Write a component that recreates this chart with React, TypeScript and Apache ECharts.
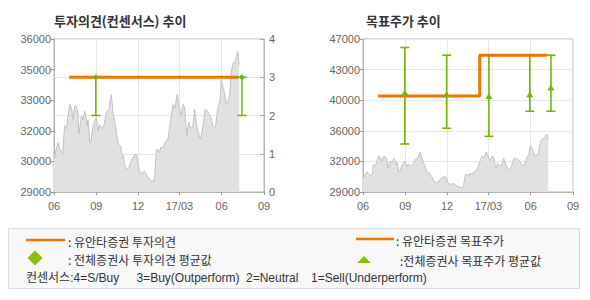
import React, { useEffect, useRef } from 'react';
import * as echarts from 'echarts';

// ---------- data ----------
const priceDates = [
  '2016-06-01','2016-06-05','2016-06-10','2016-06-13','2016-06-17','2016-06-20','2016-06-24','2016-06-28',
  '2016-07-01','2016-07-05','2016-07-09','2016-07-12','2016-07-16','2016-07-20','2016-07-23','2016-07-25',
  '2016-07-31','2016-08-03','2016-08-07','2016-08-10','2016-08-12','2016-08-14','2016-08-18','2016-08-21',
  '2016-08-24','2016-08-29','2016-09-01','2016-09-05','2016-09-08','2016-09-13','2016-09-17','2016-09-23',
  '2016-09-29','2016-09-30','2016-10-04','2016-10-07','2016-10-13','2016-10-18','2016-10-24','2016-10-26',
  '2016-10-29','2016-11-02','2016-11-07','2016-11-11','2016-11-15','2016-11-20','2016-11-24','2016-11-27',
  '2016-12-03','2016-12-06','2016-12-10','2016-12-15','2016-12-23','2016-12-30','2017-01-04','2017-01-06',
  '2017-01-10','2017-01-13','2017-01-17','2017-01-19','2017-01-24','2017-02-01','2017-02-04','2017-02-08',
  '2017-02-11','2017-02-15','2017-02-19','2017-02-24','2017-02-27','2017-03-04','2017-03-09','2017-03-12',
  '2017-03-17','2017-03-21','2017-03-26','2017-03-30','2017-04-03','2017-04-08','2017-04-12','2017-04-16',
  '2017-04-21','2017-04-26','2017-05-01','2017-05-07','2017-05-13','2017-05-18','2017-05-23','2017-05-28',
  '2017-05-31','2017-06-04','2017-06-07','2017-06-11','2017-06-15','2017-06-18','2017-06-22','2017-06-26',
  '2017-06-29','2017-07-03','2017-07-06','2017-07-09'
];
const priceValues = [
  30590,31000,31380,31110,30980,30800,32220,32070,
  32590,33230,33070,32510,33150,33120,32800,31800,
  32670,32490,32910,32590,32180,32490,31390,31540,
  32070,32510,32590,31950,32280,32070,32170,32840,
  33000,33310,33710,32910,32180,31390,31220,30900,
  30820,30270,30100,30160,30480,30660,30820,30820,
  30110,29860,29950,30000,29700,29530,29530,29770,
  31060,31060,30900,31150,31150,31540,31540,32180,
  32670,33230,33020,33710,33330,32670,33230,33120,
  31710,32380,32070,32170,33000,32170,31780,31540,
  32170,33000,32910,32700,32180,32070,33000,33400,
  34440,34070,33800,33230,33440,33630,34830,35250,
  35240,35560,35810,35160
];

const xTickDates = ['2016-06-01','2016-09-01','2016-12-01','2017-03-01','2017-06-01','2017-09-01'];
const xTickLabels = ['06','09','12','17/03','06','09'];

const leftPriceTicks = [29000, 30480, 31960, 33440, 34920, 36400];
const leftPriceTickLabels = ['29000','30000','32000','33000','35000','36000'];
const rightPriceTicks = [29000, 32600, 36200, 39800, 43400, 47000];
const rightPriceTickLabels = ['29000','32000','36000','40000','43000','47000'];

// investment opinion (4=S/Buy 3=Buy 2=Neutral 1=Sell)
const opinionDates = ['2016-07-04','2017-07-07'];
const opinionValues = [3, 3];
const consOpinionDates = ['2016-08-31','2017-07-15'];
const consOpinionMin = [2, 2];
const consOpinionMax = [3, 3];
const consOpinionAvg = [3, 3];

// target price
const targetDates = ['2016-07-04','2017-02-10','2017-07-07'];
const targetValues = [40300, 45100, 45100];
const consTargetDates = ['2016-08-31','2016-11-30','2017-03-02','2017-05-30','2017-07-15'];
const consTargetMin = [34650, 36500, 35550, 38500, 38500];
const consTargetMax = [46000, 45100, 45100, 45100, 45100];
const consTargetAvg = [40700, 40500, 40300, 40500, 41300];

// ---------- styles ----------
const ORANGE = '#f37300';
const GREEN = '#76b500';
const LEG_GREEN = '#86c20a';
const AXIS = '#b5b5b5';
const GRIDLINE = '#e6e6e6';
const LABEL = '#666';
const NUMFONT = 'Liberation Sans, Arial, sans-serif';
const KRFONT = 'Noto Sans CJK KR, sans-serif';
const MIXFONT = 'Liberation Sans, Noto Sans CJK KR, sans-serif';

const ts = (s: string) => Date.parse(s + 'T00:00:00Z');
const lookup = (vals: number[], labels: string[]) => (v: number) => {
  const i = vals.findIndex((t) => Math.abs(t - v) <= 1e-6 * Math.max(1, Math.abs(t)));
  return i >= 0 ? labels[i] : '';
};

const xMin = ts(xTickDates[0]);
const xMax = ts(xTickDates[xTickDates.length - 1]);
const xTickVals = xTickDates.map(ts);

const makeXAxis = (gridIndex: number) => ({
  type: 'value',
  gridIndex,
  min: xMin,
  max: xMax,
  axisLine: { show: true, lineStyle: { color: AXIS } },
  axisTick: { show: true, length: 3, customValues: xTickVals, lineStyle: { color: '#999' } },
  axisLabel: {
    customValues: xTickVals,
    formatter: lookup(xTickVals, xTickLabels),
    color: LABEL,
    fontSize: 11,
    fontFamily: NUMFONT,
    margin: 8,
  },
  splitLine: { show: true, lineStyle: { color: GRIDLINE, width: 1 } },
});

const errorBar = (params: any, api: any) => {
  const x = api.value(0);
  const lo = api.coord([x, api.value(1)]);
  const hi = api.coord([x, api.value(2)]);
  const half = 4.5;
  const style = { stroke: GREEN, lineWidth: 1.6, fill: null };
  return {
    type: 'group',
    children: [
      { type: 'line', shape: { x1: lo[0], y1: lo[1], x2: hi[0], y2: hi[1] }, style },
      { type: 'line', shape: { x1: lo[0] - half, y1: lo[1], x2: lo[0] + half, y2: lo[1] }, style },
      { type: 'line', shape: { x1: hi[0] - half, y1: hi[1], x2: hi[0] + half, y2: hi[1] }, style },
    ],
  };
};

const priceData = priceDates.map((d, i) => [ts(d), priceValues[i]]);

const priceSeries = (xAxisIndex: number, yAxisIndex: number) => ({
  type: 'line',
  xAxisIndex,
  yAxisIndex,
  data: priceData,
  showSymbol: false,
  symbol: 'none',
  lineStyle: { color: '#c2c2c2', width: 1 },
  areaStyle: { color: '#e1e1e1', opacity: 1, origin: 'start' },
  z: 1,
});

const legendText = (text: string, x: number, y: number, font: string = KRFONT) => ({
  type: 'text',
  x,
  y,
  style: { text, fill: '#333', fontSize: 12, fontFamily: font, verticalAlign: 'middle', align: 'left' },
});

export default function App() {
  const ref = useRef<HTMLDivElement>(null);
  useEffect(() => {
    if (!ref.current) return;
    const chart = echarts.init(ref.current, null, { renderer: 'svg' });
    const option: any = {
      animation: false,
      backgroundColor: '#fff',
      title: [
        {
          text: '투자의견(컨센서스) 추이',
          left: 54,
          top: 14,
          padding: 0,
          textStyle: { fontSize: 13, fontWeight: 'bold', color: '#333', fontFamily: KRFONT },
        },
        {
          text: '목표주가 추이',
          left: 366,
          top: 14,
          padding: 0,
          textStyle: { fontSize: 13, fontWeight: 'bold', color: '#333', fontFamily: KRFONT },
        },
      ],
      grid: [
        { left: 54, top: 39, width: 210, height: 153, show: true, borderColor: AXIS, borderWidth: 1, backgroundColor: 'transparent', containLabel: false },
        { left: 363, top: 39, width: 210, height: 153, show: true, borderColor: AXIS, borderWidth: 1, backgroundColor: 'transparent', containLabel: false },
      ],
      xAxis: [makeXAxis(0), makeXAxis(1)],
      yAxis: [
        {
          type: 'value',
          gridIndex: 0,
          min: leftPriceTicks[0],
          max: leftPriceTicks[leftPriceTicks.length - 1],
          axisLine: { show: true, lineStyle: { color: AXIS } },
          axisTick: { show: true, length: 3, customValues: leftPriceTicks, lineStyle: { color: '#999' } },
          axisLabel: {
            customValues: leftPriceTicks,
            formatter: lookup(leftPriceTicks, leftPriceTickLabels),
            color: LABEL,
            fontSize: 11,
            fontFamily: NUMFONT,
            margin: 3,
          },
          splitLine: { show: false },
        },
        {
          type: 'value',
          gridIndex: 0,
          position: 'right',
          min: 0,
          max: 4,
          interval: 1,
          axisLine: { show: true, lineStyle: { color: AXIS } },
          axisTick: { show: true, inside: true, length: 4, lineStyle: { color: '#aaa' } },
          axisLabel: { color: LABEL, fontSize: 11, fontFamily: NUMFONT, margin: 5 },
          splitLine: { show: true, lineStyle: { color: GRIDLINE, width: 1 } },
        },
        {
          type: 'value',
          gridIndex: 1,
          min: rightPriceTicks[0],
          max: rightPriceTicks[rightPriceTicks.length - 1],
          axisLine: { show: true, lineStyle: { color: AXIS } },
          axisTick: { show: true, length: 3, customValues: rightPriceTicks, lineStyle: { color: '#999' } },
          axisLabel: {
            customValues: rightPriceTicks,
            formatter: lookup(rightPriceTicks, rightPriceTickLabels),
            color: LABEL,
            fontSize: 11,
            fontFamily: NUMFONT,
            margin: 3,
          },
          splitLine: { show: true, lineStyle: { color: GRIDLINE, width: 1 } },
        },
      ],
      series: [
        priceSeries(0, 0),
        {
          type: 'custom',
          xAxisIndex: 0,
          yAxisIndex: 1,
          renderItem: errorBar,
          encode: { x: 0, y: [1, 2] },
          data: consOpinionDates.map((d, i) => [ts(d), consOpinionMin[i], consOpinionMax[i]]),
          z: 3,
        },
        {
          type: 'line',
          xAxisIndex: 0,
          yAxisIndex: 1,
          data: opinionDates.map((d, i) => [ts(d), opinionValues[i]]),
          step: 'end',
          showSymbol: false,
          symbol: 'none',
          lineStyle: { color: ORANGE, width: 3 },
          z: 4,
        },
        {
          type: 'scatter',
          xAxisIndex: 0,
          yAxisIndex: 1,
          data: consOpinionDates.map((d, i) => [ts(d), consOpinionAvg[i]]),
          symbol: 'diamond',
          symbolSize: 6,
          itemStyle: { color: GREEN, opacity: 1 },
          z: 5,
        },
        priceSeries(1, 2),
        {
          type: 'custom',
          xAxisIndex: 1,
          yAxisIndex: 2,
          renderItem: errorBar,
          encode: { x: 0, y: [1, 2] },
          data: consTargetDates.map((d, i) => [ts(d), consTargetMin[i], consTargetMax[i]]),
          z: 3,
        },
        {
          type: 'line',
          xAxisIndex: 1,
          yAxisIndex: 2,
          data: targetDates.map((d, i) => [ts(d), targetValues[i]]),
          step: 'end',
          showSymbol: false,
          symbol: 'none',
          lineStyle: { color: ORANGE, width: 3 },
          z: 4,
        },
        {
          type: 'scatter',
          xAxisIndex: 1,
          yAxisIndex: 2,
          data: consTargetDates.map((d, i) => [ts(d), consTargetAvg[i]]),
          symbol: 'triangle',
          symbolSize: [7, 6],
          itemStyle: { color: GREEN, opacity: 1 },
          z: 5,
        },
      ],
      graphic: [
        {
          type: 'rect',
          shape: { x: 8.5, y: 228.5, width: 571, height: 60 },
          style: { fill: '#f8f8f8', stroke: '#dcdcdc', lineWidth: 1 },
          z: -1,
        },
        { type: 'line', shape: { x1: 26, y1: 240, x2: 65, y2: 240 }, style: { stroke: ORANGE, lineWidth: 2.5 } },
        legendText(': 유안타증권 투자의견', 68, 241),
        {
          type: 'polygon',
          shape: { points: [[27.5, 258], [35, 250.5], [42.5, 258], [35, 265.5]] },
          style: { fill: LEG_GREEN },
        },
        legendText(': 전체증권사 투자의견 평균값', 68, 259),
        legendText('컨센서스:4=S/Buy', 26, 277.5, MIXFONT),
        legendText('3=Buy(Outperform)', 136.5, 277.5, MIXFONT),
        legendText('2=Neutral', 246, 277.5, MIXFONT),
        legendText('1=Sell(Underperform)', 311, 277.5, MIXFONT),
        { type: 'line', shape: { x1: 356, y1: 239, x2: 394, y2: 239 }, style: { stroke: ORANGE, lineWidth: 2.5 } },
        legendText(': 유안타증권 목표주가', 396, 240),
        {
          type: 'polygon',
          shape: { points: [[357, 263], [364, 256], [371, 263]] },
          style: { fill: LEG_GREEN },
        },
        legendText(':전체증권사 목표주가 평균값', 400, 260),
      ],
    };
    chart.setOption(option);
    return () => chart.dispose();
  }, []);
  return (
    <div
      ref={ref}
      style={{ position: 'fixed', left: 0, top: 0, width: 590, height: 300 }}
    />
  );
}
